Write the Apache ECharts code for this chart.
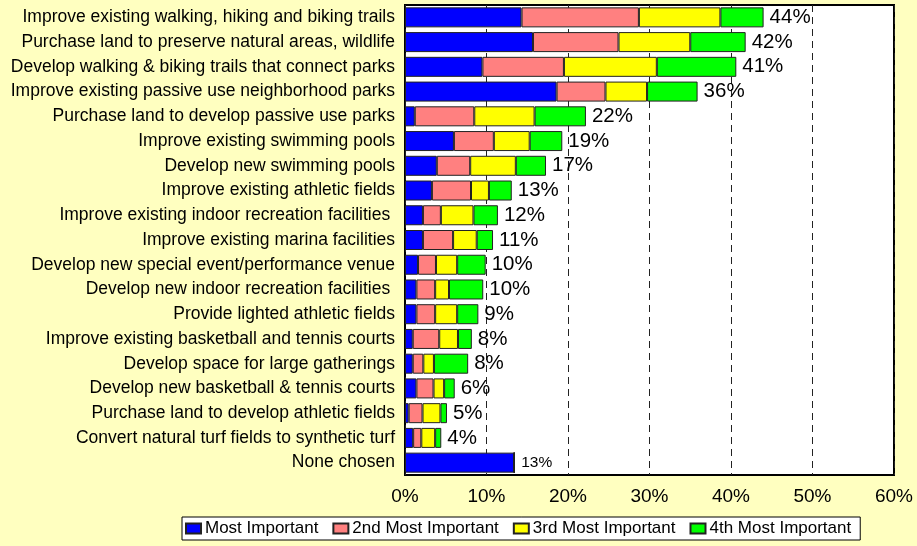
<!DOCTYPE html>
<html>
<head>
<meta charset="utf-8">
<script src="https://cdn.jsdelivr.net/npm/echarts@6/dist/echarts.min.js"></script>
<style>
html,body{margin:0;padding:0;background:#FFFFC0;}
#chart{width:917px;height:546px;}
</style>
</head>
<body>
<div id="chart"></div>
<script>
var categories = [
  "Improve existing walking, hiking and biking trails",
  "Purchase land to preserve natural areas, wildlife",
  "Develop walking & biking trails that connect parks",
  "Improve existing passive use neighborhood parks",
  "Purchase land to develop passive use parks",
  "Improve existing swimming pools",
  "Develop new swimming pools",
  "Improve existing athletic fields",
  "Improve existing indoor recreation facilities ",
  "Improve existing marina facilities",
  "Develop new special event/performance venue",
  "Develop new indoor recreation facilities ",
  "Provide lighted athletic fields",
  "Improve existing basketball and tennis courts",
  "Develop space for large gatherings",
  "Develop new basketball & tennis courts",
  "Purchase land to develop athletic fields",
  "Convert natural turf fields to synthetic turf",
  "None chosen"
];
var mostImportant   = [14.3, 15.7, 9.5, 18.6, 1.2, 6.0, 3.9, 3.3, 2.2, 2.2, 1.6, 1.4, 1.4, 0.95, 0.95, 1.4, 0.45, 1.0, 13.4];
var second          = [14.4, 10.5, 10.0, 6.0, 7.3, 4.9, 4.1, 4.8, 2.2, 3.7, 2.2, 2.3, 2.3, 3.25, 1.3, 2.1, 1.7, 1.0, 0];
var third           = [10.0, 8.8, 11.4, 5.1, 7.4, 4.4, 5.6, 2.2, 4.0, 2.9, 2.6, 1.7, 2.7, 2.3, 1.3, 1.3, 2.2, 1.7, 0];
var fourth          = [5.3, 6.8, 9.75, 6.2, 6.3, 4.0, 3.7, 2.8, 3.0, 2.0, 3.5, 4.2, 2.6, 1.7, 4.2, 1.3, 0.8, 0.75, 0];
var totalLabels     = [44, 42, 41, 36, 22, 19, 17, 13, 12, 11, 10, 10, 9, 8, 8, 6, 5, 4, 13];
var xTicks = [0, 10, 20, 30, 40, 50, 60];
var seriesNames = ["Most Important", "2nd Most Important", "3rd Most Important", "4th Most Important"];
var colors = ["#0000FF", "#FF8080", "#FFFF00", "#00FF00"];

var font = "Liberation Sans, Arial, sans-serif";
var last = categories.length - 1;

function mk(name, vals, color, idx) {
  var data = vals.map(function (v, i) {
    var d = { value: v };
    if (idx === 3 && i !== last) {
      d.label = { show: true, position: 'right', distance: 6, fontSize: 20.5, color: '#000', fontFamily: font,
        formatter: totalLabels[i] + '%' };
    }
    if (idx === 0 && i === last) {
      d.label = { show: true, position: 'right', distance: 7, fontSize: 15.5, color: '#000', fontFamily: font,
        formatter: totalLabels[i] + '%' };
    }
    return d;
  });
  return {
    name: name, type: 'bar', stack: 'total', data: data, barWidth: 20,
    itemStyle: { color: color, borderColor: '#222', borderWidth: 1 },
    emphasis: { disabled: true },
    animation: false
  };
}

var chart = echarts.init(document.getElementById('chart'), null, { renderer: 'canvas' });
chart.setOption({
  backgroundColor: '#FFFFC0',
  textStyle: { fontFamily: font },
  grid: { left: 405, right: 23, top: 5, bottom: 71, show: true, backgroundColor: '#fff', borderColor: '#000', borderWidth: 2 },
  legend: {
    data: seriesNames, left: 182, top: 517, orient: 'horizontal',
    backgroundColor: '#fff', borderColor: '#000', borderWidth: 1,
    padding: [3, 9, 3, 3], itemGap: 14, itemWidth: 15, itemHeight: 10, icon: 'rect',
    textStyle: { fontSize: 17, color: '#000', fontFamily: font, padding: [0, 0, 0, -1] },
    selectedMode: false
  },
  xAxis: {
    type: 'value', min: xTicks[0], max: xTicks[xTicks.length - 1], interval: 10,
    axisLine: { show: false }, axisTick: { show: false },
    axisLabel: { formatter: '{value}%', fontSize: 19, color: '#000', margin: 12, fontFamily: font },
    splitLine: { show: true, lineStyle: { color: '#222', type: [7, 5], width: 1 } }
  },
  yAxis: {
    type: 'category', data: categories, inverse: true,
    axisLine: { show: false }, axisTick: { show: false },
    axisLabel: { fontSize: 17.5, color: '#000', margin: 10, fontFamily: font }
  },
  series: [
    mk(seriesNames[0], mostImportant, colors[0], 0),
    mk(seriesNames[1], second, colors[1], 1),
    mk(seriesNames[2], third, colors[2], 2),
    mk(seriesNames[3], fourth, colors[3], 3)
  ]
});
</script>
</body>
</html>
